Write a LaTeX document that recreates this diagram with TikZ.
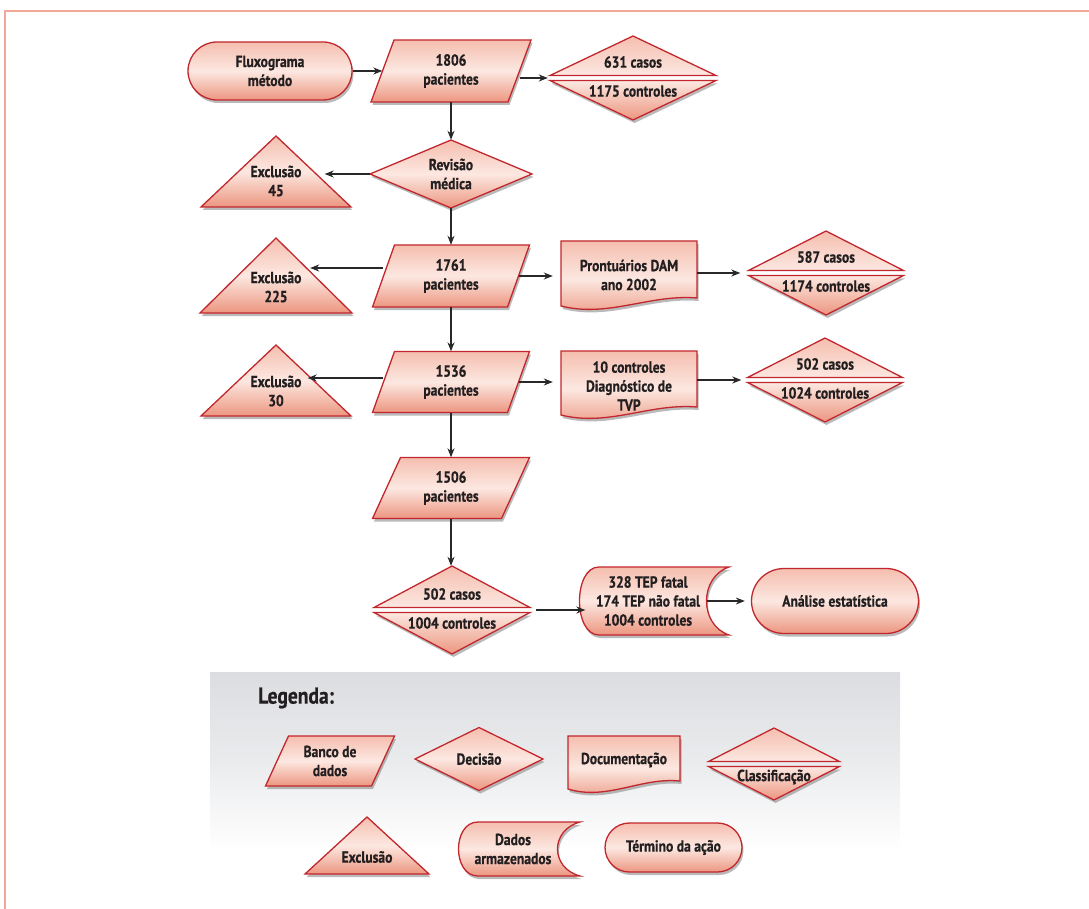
\documentclass[tikz,border=0pt]{standalone}
\usepackage{fontspec}
\setmainfont{PT Sans}[FakeStretch=0.85, BoldFeatures={FakeBold=0.6}]
\usetikzlibrary{shapes.geometric,shapes.misc,shadows,arrows.meta}
\definecolor{bred}{RGB}{193,39,45}
\definecolor{ptop}{RGB}{245,190,175}
\definecolor{pmid}{RGB}{252,232,225}
\definecolor{pbot}{RGB}{236,150,128}
\definecolor{txtc}{RGB}{35,31,32}
\definecolor{arrc}{RGB}{40,40,40}
\definecolor{framec}{RGB}{240,168,152}
\definecolor{legtop}{RGB}{220,221,224}
\definecolor{legmid}{RGB}{234,235,237}
\newcommand\lblfont{\bfseries\fontsize{16}{19}\selectfont}
\tikzset{
 shpline/.style={draw=bred, line width=1.3pt},
 shadowed/.style={drop shadow={shadow xshift=1.5pt, shadow yshift=-3pt, fill=black!45, opacity=.6}},
 shp/.style={shpline, shadowed, top color=ptop, bottom color=pbot, middle color=pmid},
 shpup/.style={shpline, top color=ptop, bottom color=pmid},
 shpdn/.style={shpline, shadowed, top color=pmid, bottom color=pbot},
 lbl/.style={text=txtc, font=\lblfont, align=center, inner sep=0pt},
 term/.style={shp, lbl, rounded rectangle},
 arr/.style={draw=arrc, line width=1.2pt, -{Stealth[length=9pt,width=7pt]}},
}
% parallelogram: name, cx, cy, w, h, skew, text
\newcommand\mkpara[7]{%
 \path[shp] ({#2-#4/2+#6/2},{#3-#5/2}) -- ({#2+#4/2+#6/2},{#3-#5/2}) -- ({#2+#4/2-#6/2},{#3+#5/2}) -- ({#2-#4/2-#6/2},{#3+#5/2}) -- cycle;
 \node[lbl, minimum width=#4, minimum height=#5] (#1) at (#2,#3) {#7};}
% diamond: name, cx, cy, w, h, text
\newcommand\mkdia[6]{%
 \path[shp] (#2,{#3-#5/2}) -- ({#2+#4/2},#3) -- (#2,{#3+#5/2}) -- ({#2-#4/2},#3) -- cycle;
 \node[lbl, minimum width=#4, minimum height=#5] (#1) at (#2,#3) {#6};}
% triangle: name, cx, apex y, base y, half base, text, text y
\newcommand\mktri[7]{%
 \path[shp] (#2,#3) -- ({#2+#5},#4) -- ({#2-#5},#4) -- cycle;
 \node[lbl, minimum width=#5] (#1) at (#2,#7) {#6};}
% classification: name, cx, cy, w, h, top text, bottom text
\newcommand\mkcls[7]{%
 \path[shpup] (#2,{#3-#5/2}) -- ({#2+#4/2},{#3-2.5}) -- ({#2-#4/2},{#3-2.5}) -- cycle;
 \path[shpdn] (#2,{#3+#5/2}) -- ({#2-#4/2},{#3+2.5}) -- ({#2+#4/2},{#3+2.5}) -- cycle;
 \node[minimum width=#4, minimum height=#5, inner sep=0pt] (#1) at (#2,#3) {};
 \node[lbl] (#1t) at (#2,{#3-16}) {#6};
 \node[lbl] (#1b) at (#2,{#3+13}) {#7};}
% document: name, x0, yt, x1, yb, text, text y
\newcommand\mkdoc[7]{%
 \path[shp] (#2,#3) -- (#4,#3) -- (#4,{#5-8}) .. controls ({#2+0.65*(#4-#2)},{#5-12}) and ({#2+0.35*(#4-#2)},{#5+12}) .. (#2,#5) -- cycle;
 \node[lbl, minimum width={#4-#2}] (#1) at ({(#2+#4)/2},#7) {#6};}
% stored data: name, x0, yt, x1, yb, text
\newcommand\mkstore[6]{%
 \path[shp] ({#2+22},#3) -- (#4,#3) .. controls ({#4-30},{#3+0.15*(#5-#3)}) and ({#4-30},{#5-0.15*(#5-#3)}) .. (#4,#5) -- ({#2+22},#5) .. controls ({#2-4},#5) and ({#2-4},#3) .. ({#2+22},#3) -- cycle;
 \node[lbl, minimum width={#4-#2-35}] (#1) at ({(#2+#4)/2-5},{(#3+#5)/2}) {#6};}
\begin{document}
\begin{tikzpicture}[x=1pt,y=-1pt]
\useasboundingbox (0,0) rectangle (1089,909);
\draw[framec, line width=1.5pt] (1089,11) -- (5,11) -- (5,909);
% legend background
\shade[top color=legtop, bottom color=white, middle color=legmid] (210,672) rectangle (900,850);

% main flow
\node[term, minimum width=164, minimum height=58] (T1) at (270,71) {Fluxograma\\método};
\mkpara{P1}{451}{71}{137}{62}{23}{1806\\pacientes}
\mkcls{C1}{633}{78}{166}{84}{631 casos}{1175 controles}
\mkdia{D1}{451}{174}{162}{68}{Revisão\\médica}
\mktri{X1}{276}{136}{207}{75}{Exclusão\\45}{181}
\mkpara{P2}{451}{276}{135}{62}{22}{1761\\pacientes}
\mktri{X2}{276}{238}{313}{76}{Exclusão\\225}{287}
\mkdoc{M1}{561}{241}{697}{306}{Prontuários DAM\\ano 2002}{275}
\mkcls{C2}{826}{273}{155}{84}{587 casos}{1174 controles}
\mkpara{P3}{451}{382}{135}{61}{22}{1536\\pacientes}
\mktri{X3}{276}{345}{416}{75}{Exclusão\\30}{391}
\mkdoc{M2}{561}{351}{697}{415}{10 controles\\Diagnóstico de\\TVP}{386}
\mkcls{C3}{825}{380}{155}{84}{502 casos}{1024 controles}
\mkpara{P4}{451}{488}{129}{61}{28}{1506\\pacientes}
\mkcls{C4}{452}{610}{156}{88}{502 casos}{1004 controles}
\mkstore{S1}{577}{567}{729}{635}{328 TEP fatal\\174 TEP não fatal\\1004 controles}
\node[term, minimum width=167, minimum height=65] (T2) at (835,601) {Análise estatística};

% connectors
\draw[arr] (T1.east) -- (P1.west);
\draw[arr, shorten >=2pt] (C1.west -| P1.east) -- (C1.west);
\draw[arr] (P1.south) -- (D1.north);
\draw[arr, shorten >=11pt] (D1.west) -- (D1.west -| X1.east);
\draw[arr] (D1.south) -- (P2.north);
\draw[arr, shorten >=-4pt] ([yshift=8pt]P2.west) -- ([yshift=8pt]P2.west -| X2.east);
\draw[arr, shorten >=8pt] (P2.east) -- (P2.east -| M1.west);
\draw[arr, shorten >=8pt] (C2.west -| M1.east) -- (C2.west);
\draw[arr] (P2.south) -- (P3.north);
\draw[arr, shorten >=-6pt] ([yshift=4pt]P3.west) -- ([yshift=4pt]P3.west -| X3.east);
\draw[arr, shorten >=8pt] (P3.east) -- (P3.east -| M2.west);
\draw[arr, shorten >=6pt] (C3.west -| M2.east) -- (C3.west);
\draw[arr] (P3.south) -- (P4.north);
\draw[arr] (P4.south) -- (P4.south |- C4.north);
\draw[arr, shorten <=6pt, shorten >=4pt] (C4.east) -- (C4.east -| S1.west);
\draw[arr, shorten >=6pt] (S1.east) -- (S1.east -| T2.west);

% legend
\node[text=txtc, font=\bfseries\fontsize{23}{27}\selectfont, anchor=west, inner sep=0pt] (LG) at (258,698) {Legenda:};
\mkpara{LP}{330}{761}{106}{50}{23}{Banco de\\dados}
\mkdia{LD}{479}{759}{128}{63}{Decisão}
\mkdoc{LM}{568}{736}{680}{789}{Documentação}{760}
\mkcls{LC}{774}{764}{131}{72}{}{Classificação}
\mktri{LX}{367}{817}{874}{62}{Exclusão}{857}
\mkstore{LS}{456}{822}{580}{876}{Dados\\armazenados}
\node[term, minimum width=137, minimum height=49] (LT) at (673.5,847.5) {Término da ação};
\end{tikzpicture}
\end{document}
